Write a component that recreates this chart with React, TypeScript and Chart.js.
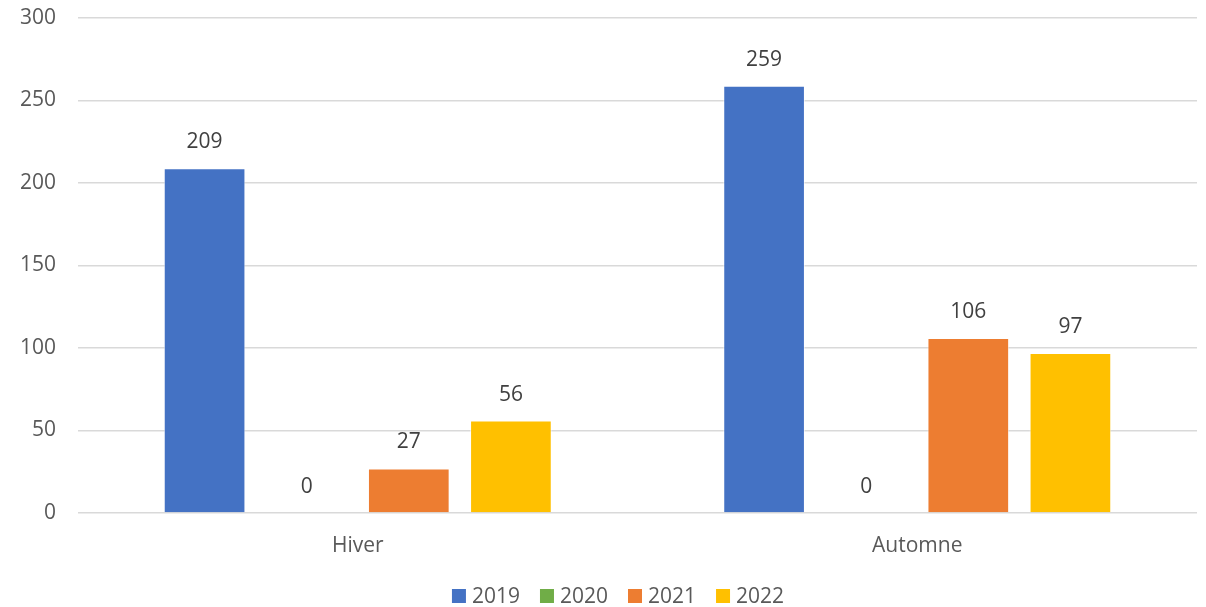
import React, { useEffect, useRef } from "react";
import { Chart, registerables } from "chart.js";

Chart.register(...registerables);

const categories = ["Hiver", "Automne"];
const seriesNames = ["2019", "2020", "2021", "2022"];
const values2019 = [209, 259];
const values2020 = [0, 0];
const values2021 = [27, 106];
const values2022 = [56, 97];
const colors = ["#4472C4", "#70AD47", "#ED7D31", "#FFC000"];
const yTicks = [0, 50, 100, 150, 200, 250, 300];

const FONT = "'Open Sans', 'Liberation Sans', sans-serif";

const dataLabels = {
  id: "dataLabels",
  afterDatasetsDraw(chart: any) {
    const ctx = chart.ctx;
    ctx.save();
    ctx.font = `21px ${FONT}`;
    ctx.fillStyle = "#404040";
    ctx.textAlign = "center";
    ctx.textBaseline = "middle";
    chart.data.datasets.forEach((ds: any, i: number) => {
      const meta = chart.getDatasetMeta(i);
      meta.data.forEach((bar: any, j: number) => {
        ctx.fillText(String(ds.data[j]), bar.x, bar.y - 26);
      });
    });
    ctx.restore();
  },
};

const bottomLegend = {
  id: "bottomLegend",
  afterDraw(chart: any) {
    const ctx = chart.ctx;
    ctx.save();
    ctx.font = `21px ${FONT}`;
    ctx.textBaseline = "middle";
    ctx.textAlign = "left";
    const box = 14;
    const gap = 6;
    const spacing = 20;
    const items = chart.data.datasets.map((ds: any) => ({
      label: ds.label,
      color: ds.backgroundColor,
      w: box + gap + ctx.measureText(ds.label).width,
    }));
    const total =
      items.reduce((a: number, it: any) => a + it.w, 0) + spacing * (items.length - 1);
    let x = 618 - total / 2;
    const cy = 596;
    items.forEach((it: any) => {
      ctx.fillStyle = it.color;
      ctx.fillRect(x, cy - box / 2, box, box);
      ctx.fillStyle = "#595959";
      ctx.fillText(it.label, x + box + gap, cy + 1);
      x += it.w + spacing;
    });
    ctx.restore();
  },
};

export default function App() {
  const ref = useRef<HTMLCanvasElement>(null);
  useEffect(() => {
    const all = [values2019, values2020, values2021, values2022];
    const chart = new Chart(ref.current!, {
      type: "bar",
      data: {
        labels: categories,
        datasets: seriesNames.map((n, i) => ({
          label: n,
          data: all[i],
          backgroundColor: colors[i],
          borderColor: "rgba(255,255,255,0.6)",
          borderWidth: 1,
          categoryPercentage: 0.73,
          barPercentage: 0.8,
        })),
      },
      options: {
        animation: false,
        responsive: false,
        maintainAspectRatio: false,
        layout: { padding: { left: 0, right: 9, top: 18, bottom: 35 } },
        scales: {
          x: {
            grid: { display: false, drawTicks: false },
            border: { display: false },
            afterFit: (s: any) => {
              s.height = 59;
            },
            ticks: {
              color: "#595959",
              font: { size: 21, family: FONT },
              padding: 20,
            },
          },
          y: {
            min: 0,
            max: 300,
            afterBuildTicks: (s: any) => {
              s.ticks = yTicks.map((v) => ({ value: v }));
            },
            afterFit: (s: any) => {
              s.width = 78;
              s.paddingTop = 0;
              s.paddingBottom = 0;
            },
            grid: { color: "#d9d9d9", lineWidth: 1.5, drawTicks: false },
            border: { display: false },
            ticks: {
              color: "#595959",
              font: { size: 21, family: FONT },
              padding: 22,
            },
          },
        },
        plugins: {
          legend: { display: false },
          tooltip: { enabled: false },
        },
      },
      plugins: [dataLabels, bottomLegend],
    });
    return () => chart.destroy();
  }, []);
  return (
    <div style={{ position: "fixed", left: 0, top: 0, width: 1206, height: 607, background: "#fff" }}>
      <canvas ref={ref} width={1206} height={607} />
    </div>
  );
}
